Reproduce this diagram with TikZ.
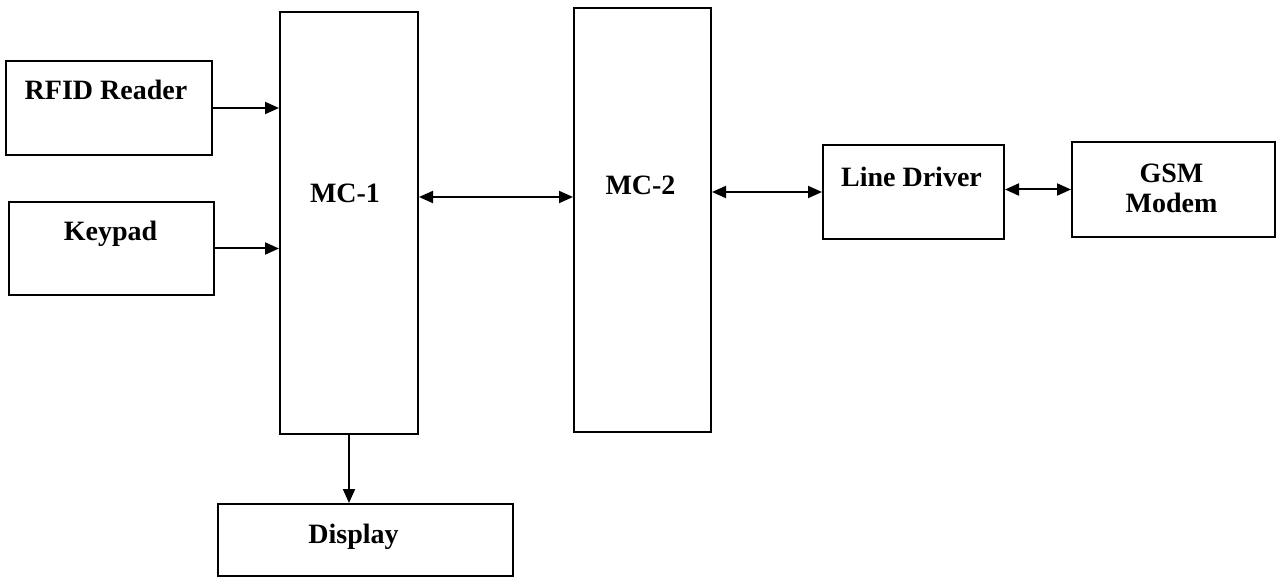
\documentclass[tikz,border=0pt]{standalone}
\usepackage{fontspec}
\setmainfont{Liberation Serif}
\usetikzlibrary{arrows.meta}
\begin{document}
\begin{tikzpicture}[x=1pt,y=-1pt,
  blk/.style={draw=black, line width=2pt, rectangle, inner sep=0pt},
  lbl/.style={font=\fontsize{28}{30}\selectfont\bfseries, align=center},
  tip/.style={Triangle[length=14pt,width=12pt]},
  con/.style={line width=2pt, -{Triangle[length=14pt,width=12pt]}},
  bicon/.style={line width=2pt, {Triangle[length=14pt,width=12pt]}-{Triangle[length=14pt,width=12pt]}}]
\useasboundingbox (0,0) rectangle (1277,577);
\node[blk, minimum width=206pt, minimum height=94pt,
  label={[lbl, yshift=18pt, xshift=-3pt]center:RFID Reader}] (rfid) at (109,108) {};
\node[blk, minimum width=205pt, minimum height=93pt,
  label={[lbl, yshift=15pt, xshift=-1pt]center:Keypad}] (key) at (111.5,248.5) {};
\node[blk, minimum width=138pt, minimum height=422pt,
  label={[lbl, yshift=30pt, xshift=-4pt]center:MC-1}] (mc1) at (349,223) {};
\node[blk, minimum width=137pt, minimum height=424pt,
  label={[lbl, yshift=35pt, xshift=-2pt]center:MC-2}] (mc2) at (642.5,220) {};
\node[blk, minimum width=181pt, minimum height=94pt,
  label={[lbl, yshift=15pt, xshift=-2pt]center:Line Driver}] (ld) at (913.5,192) {};
\node[blk, minimum width=203pt, minimum height=95pt,
  label={[lbl, yshift=1.5pt, xshift=-2pt]center:GSM\\Modem}] (gsm) at (1173.5,189.5) {};
\node[blk, minimum width=295pt, minimum height=72pt,
  label={[lbl, yshift=3pt, xshift=-12pt]center:Display}] (disp) at (365.5,540) {};
\coordinate (m12) at (480,197);
\draw[con] (rfid.east) -- (rfid.east -| mc1.west);
\draw[con] (key.east) -- (key.east -| mc1.west);
\draw[bicon] (mc1.east |- m12) -- (mc2.west |- m12);
\draw[bicon] (ld.west -| mc2.east) -- (ld.west);
\draw[bicon] (gsm.west -| ld.east) -- (gsm.west);
\draw[con] (mc1.south) -- (mc1.south |- disp.north);
\end{tikzpicture}
\end{document}
